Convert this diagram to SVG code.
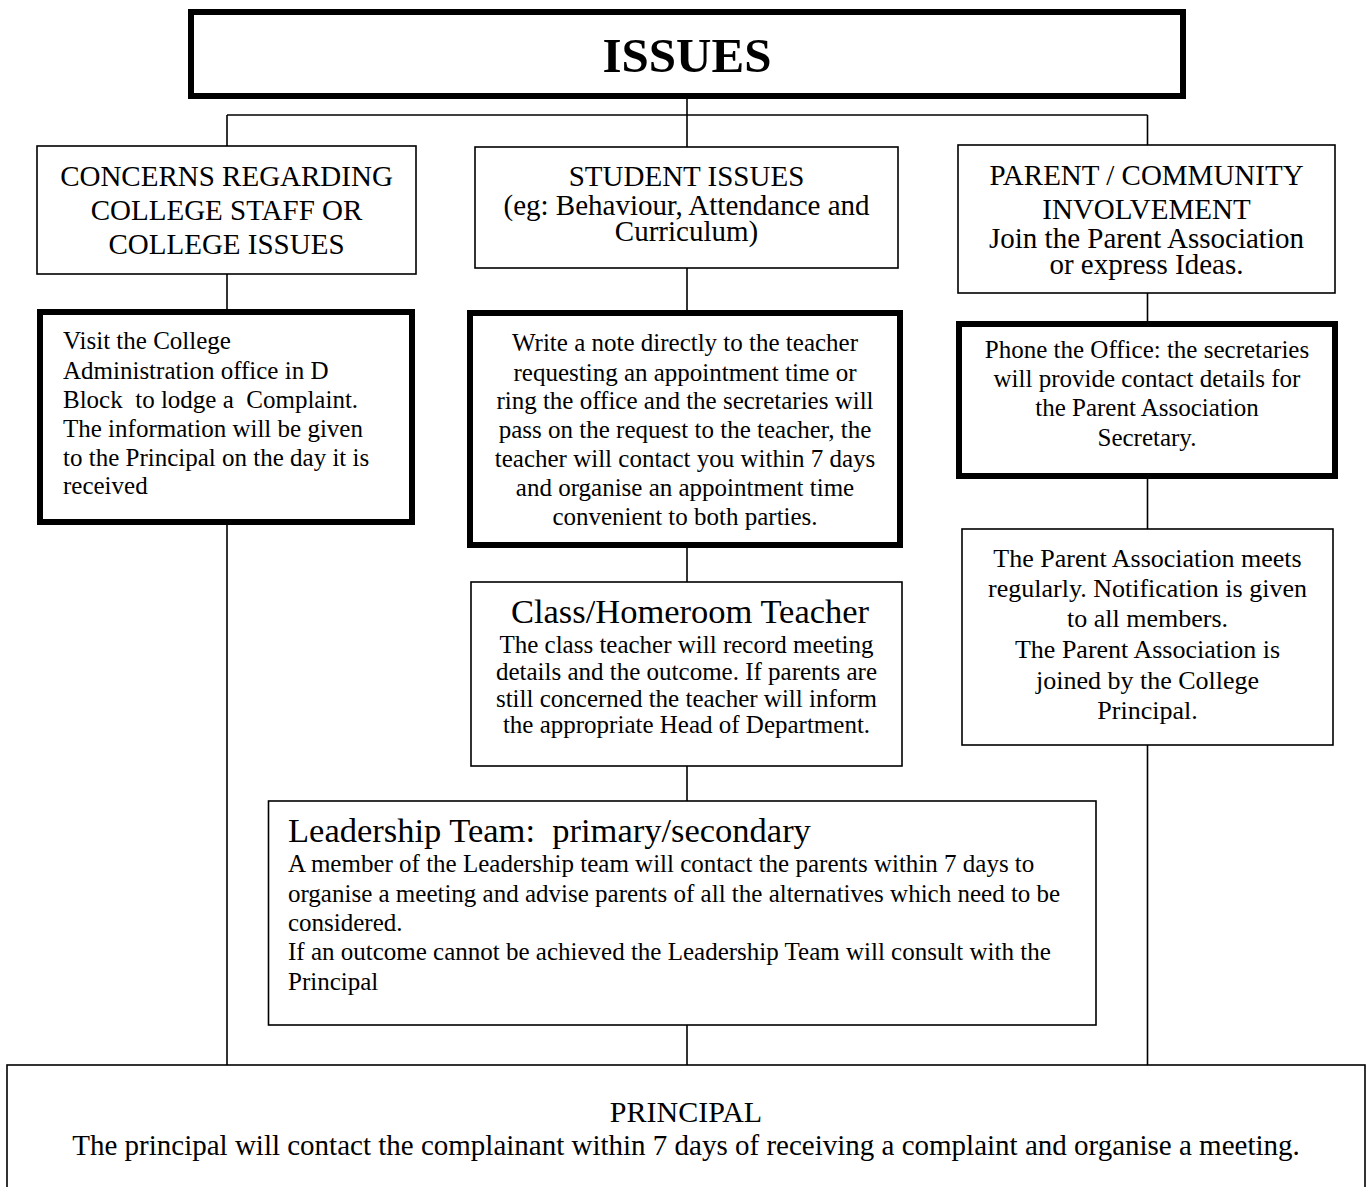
<svg xmlns="http://www.w3.org/2000/svg" width="1366" height="1187" viewBox="0 0 1366 1187">
<style>
  text { font-family: "Liberation Serif", "Times New Roman", serif; fill: #000; white-space: pre; }
  .thin { fill: #fff; stroke: #000; stroke-width: 1.6; }
  .thick { fill: #fff; stroke: #000; stroke-width: 6; }
  .conn line { stroke: #000; stroke-width: 1.6; }
  .h29 { font-size: 29px; }
  .b25 { font-size: 25px; }
  .b26 { font-size: 26px; }
  .t34 { font-size: 34.5px; }
  .c { text-anchor: middle; }
</style>
<rect width="1366" height="1187" fill="#fff"/>

<g id="connectors" class="conn">
  <line x1="687" y1="99" x2="687" y2="115"/>
  <line x1="227" y1="115" x2="1147.5" y2="115"/>
  <line x1="227" y1="115" x2="227" y2="146"/>
  <line x1="687" y1="115" x2="687" y2="147"/>
  <line x1="1147.5" y1="115" x2="1147.5" y2="145"/>
  <line x1="227" y1="274" x2="227" y2="309"/>
  <line x1="227" y1="525" x2="227" y2="1065"/>
  <line x1="687" y1="268" x2="687" y2="310"/>
  <line x1="687" y1="548" x2="687" y2="582"/>
  <line x1="687" y1="766" x2="687" y2="801"/>
  <line x1="687" y1="1025" x2="687" y2="1065"/>
  <line x1="1147.5" y1="293" x2="1147.5" y2="321"/>
  <line x1="1147.5" y1="479" x2="1147.5" y2="529"/>
  <line x1="1147.5" y1="745" x2="1147.5" y2="1065"/>
</g>

<g id="issues">
  <rect x="191" y="12" width="992" height="84" class="thick"/>
  <text x="687" y="72" class="c" font-size="49" font-weight="bold">ISSUES</text>
</g>

<g id="concerns">
  <rect x="37" y="146" width="379" height="128" class="thin"/>
  <text class="h29 c" x="226.5" y="186">CONCERNS REGARDING</text>
  <text class="h29 c" x="226.5" y="220">COLLEGE STAFF OR</text>
  <text class="h29 c" x="226.5" y="254">COLLEGE ISSUES</text>
</g>

<g id="student-issues">
  <rect x="475" y="147" width="423" height="121" class="thin"/>
  <text class="h29 c" x="686.5" y="186">STUDENT ISSUES</text>
  <text class="h29 c" x="686.5" y="215">(eg: Behaviour, Attendance and</text>
  <text class="h29 c" x="686.5" y="241">Curriculum)</text>
</g>

<g id="parent-community">
  <rect x="958" y="145" width="377" height="148" class="thin"/>
  <text class="h29 c" x="1146.5" y="185">PARENT / COMMUNITY</text>
  <text class="h29 c" x="1146.5" y="219">INVOLVEMENT</text>
  <text class="h29 c" x="1146.5" y="247.5">Join the Parent Association</text>
  <text class="h29 c" x="1146.5" y="274">or express Ideas.</text>
</g>

<g id="visit-office">
  <rect x="40" y="312" width="372" height="210" class="thick"/>
  <text class="b25" x="63" y="349">Visit the College</text>
  <text class="b25" x="63" y="379">Administration office in D</text>
  <text class="b25" x="63" y="408">Block  to lodge a  Complaint.</text>
  <text class="b25" x="63" y="437">The information will be given</text>
  <text class="b25" x="63" y="466">to the Principal on the day it is</text>
  <text class="b25" x="63" y="494">received</text>
</g>

<g id="write-note">
  <rect x="470" y="313" width="430" height="232" class="thick"/>
  <text class="b25 c" x="685" y="351">Write a note directly to the teacher</text>
  <text class="b25 c" x="685" y="381">requesting an appointment time or</text>
  <text class="b25 c" x="685" y="409">ring the office and the secretaries will</text>
  <text class="b25 c" x="685" y="438">pass on the request to the teacher, the</text>
  <text class="b25 c" x="685" y="467">teacher will contact you within 7 days</text>
  <text class="b25 c" x="685" y="496">and organise an appointment time</text>
  <text class="b25 c" x="685" y="525">convenient to both parties.</text>
</g>

<g id="phone-office">
  <rect x="959" y="324" width="376" height="152" class="thick" stroke-width="5.5"/>
  <text class="b25 c" x="1147" y="358">Phone the Office: the secretaries</text>
  <text class="b25 c" x="1147" y="387">will provide contact details for</text>
  <text class="b25 c" x="1147" y="416">the Parent Association</text>
  <text class="b25 c" x="1147" y="445.5">Secretary.</text>
</g>

<g id="class-teacher">
  <rect x="471" y="582" width="431" height="184" class="thin"/>
  <text class="t34 c" x="690" y="623">Class/Homeroom Teacher</text>
  <text class="b25 c" x="686.5" y="653">The class teacher will record meeting</text>
  <text class="b25 c" x="686.5" y="680">details and the outcome. If parents are</text>
  <text class="b25 c" x="686.5" y="707">still concerned the teacher will inform</text>
  <text class="b25 c" x="686.5" y="733">the appropriate Head of Department.</text>
</g>

<g id="parent-association">
  <rect x="962" y="529" width="371" height="216" class="thin"/>
  <text class="b26 c" x="1147.5" y="567">The Parent Association meets</text>
  <text class="b26 c" x="1147.5" y="596.5">regularly. Notification is given</text>
  <text class="b26 c" x="1147.5" y="627">to all members.</text>
  <text class="b26 c" x="1147.5" y="658">The Parent Association is</text>
  <text class="b26 c" x="1147.5" y="688.5">joined by the College</text>
  <text class="b26 c" x="1147.5" y="719">Principal.</text>
</g>

<g id="leadership-team">
  <rect x="268.5" y="801" width="827.5" height="224" class="thin"/>
  <text class="t34" x="288" y="842">Leadership Team:  primary/secondary</text>
  <text class="b25" x="288" y="872">A member of the Leadership team will contact the parents within 7 days to</text>
  <text class="b25" x="288" y="902">organise a meeting and advise parents of all the alternatives which need to be</text>
  <text class="b25" x="288" y="931">considered.</text>
  <text class="b25" x="288" y="960">If an outcome cannot be achieved the Leadership Team will consult with the</text>
  <text class="b25" x="288" y="990">Principal</text>
</g>

<g id="principal">
  <rect x="7" y="1065" width="1358" height="160" class="thin"/>
  <text class="c" x="686" y="1122" font-size="30">PRINCIPAL</text>
  <text class="h29 c" x="686" y="1155">The principal will contact the complainant within 7 days of receiving a complaint and organise a meeting.</text>
</g>
</svg>
